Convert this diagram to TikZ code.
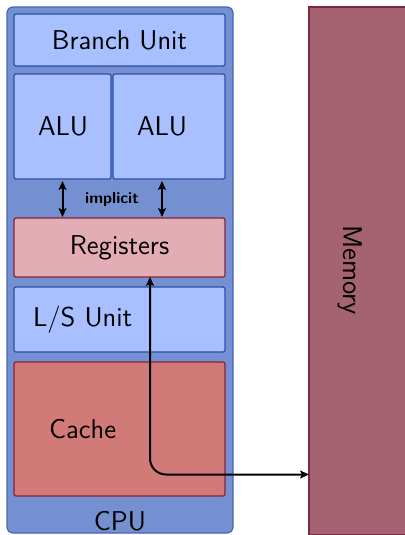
\documentclass[tikz,border=0pt]{standalone}
\usetikzlibrary{arrows.meta}
\definecolor{cpufill}{HTML}{7490D0}
\definecolor{cpubd}{HTML}{4466BB}
\definecolor{bluefill}{HTML}{A8C0FF}
\definecolor{bluebd}{HTML}{2A4FAA}
\definecolor{regfill}{HTML}{E3ADB5}
\definecolor{redbd}{HTML}{8A2038}
\definecolor{cachefill}{HTML}{D27A78}
\definecolor{memfill}{HTML}{A56270}
\definecolor{membd}{HTML}{7A2A40}
\begin{document}
\begin{tikzpicture}[x=0.5pt,y=-0.5pt,
  font=\sffamily\fontsize{13.6}{16}\selectfont,
  unit/.style={draw=bluebd, fill=bluefill, line width=0.6pt, rounded corners=1pt,
    anchor=north west, inner sep=0pt, outer sep=0pt},
  regbox/.style={unit, draw=redbd, fill=regfill},
  cachebox/.style={unit, draw=redbd, fill=cachefill},
  cpubox/.style={draw=cpubd, fill=cpufill, line width=0.6pt, rounded corners=3pt,
    anchor=north west, inner sep=0pt, outer sep=0pt},
  membox/.style={draw=membd, fill=memfill, line width=0.6pt,
    anchor=north west, inner sep=0pt, outer sep=0pt},
  dbl/.style={{Stealth[length=4.5pt,width=4pt,inset=1pt]}-{Stealth[length=4.5pt,width=4pt,inset=1pt]}, line width=1pt},
  conn/.style={dbl, rounded corners=8pt}
]
\clip (0,0) rectangle (405,535);
% CPU container
\node[cpubox, minimum width=113pt, minimum height=263pt] (cpu) at (7,7) {};
\node (cpulabel) at (120,521) {CPU};
% Memory
\node[membox, minimum width=60pt, minimum height=264pt] (memory) at (309,7) {};
\node[rotate=-90] (memlabel) at (350,270) {Memory};
% Units
\node[unit, minimum width=105.5pt, minimum height=26pt] (branch) at (14,14) {Branch Unit};
\node[unit, minimum height=52.5pt, inner xsep=12pt, text width=24.5pt, align=left] (alu1) at (14,74) {ALU};
\node[unit, minimum height=52.5pt, inner xsep=12pt, text width=32pt, align=left] (alu2) at (113,74) {ALU};
\node[regbox, minimum width=105.5pt, minimum height=29.5pt] (registers) at (14,218) {Registers};
\node[unit, minimum height=32.5pt, inner xsep=9.5pt, text width=86.5pt, align=left] (ls) at (14,287) {L/S Unit};
\node[cachebox, minimum height=67pt, inner xsep=17.5pt, text width=70.5pt, align=left] (cache) at (14,362) {Cache};
% implicit transfers
\node[font=\sffamily\bfseries\fontsize{8}{10}\selectfont] (implicit) at (112,199) {implicit};
\draw[dbl, shorten <=1pt, shorten >=0.5pt] (alu1.south) -- (alu1.south |- registers.north);
\draw[dbl, shorten <=1pt, shorten >=0.5pt] ([xshift=-3.5pt]alu2.south) -- ([xshift=-3.5pt]alu2.south |- registers.north);
% registers <-> memory
\draw[conn] ([xshift=15.25pt]registers.south) |- ([yshift=-101.75pt]memory.west);
\end{tikzpicture}
\end{document}
